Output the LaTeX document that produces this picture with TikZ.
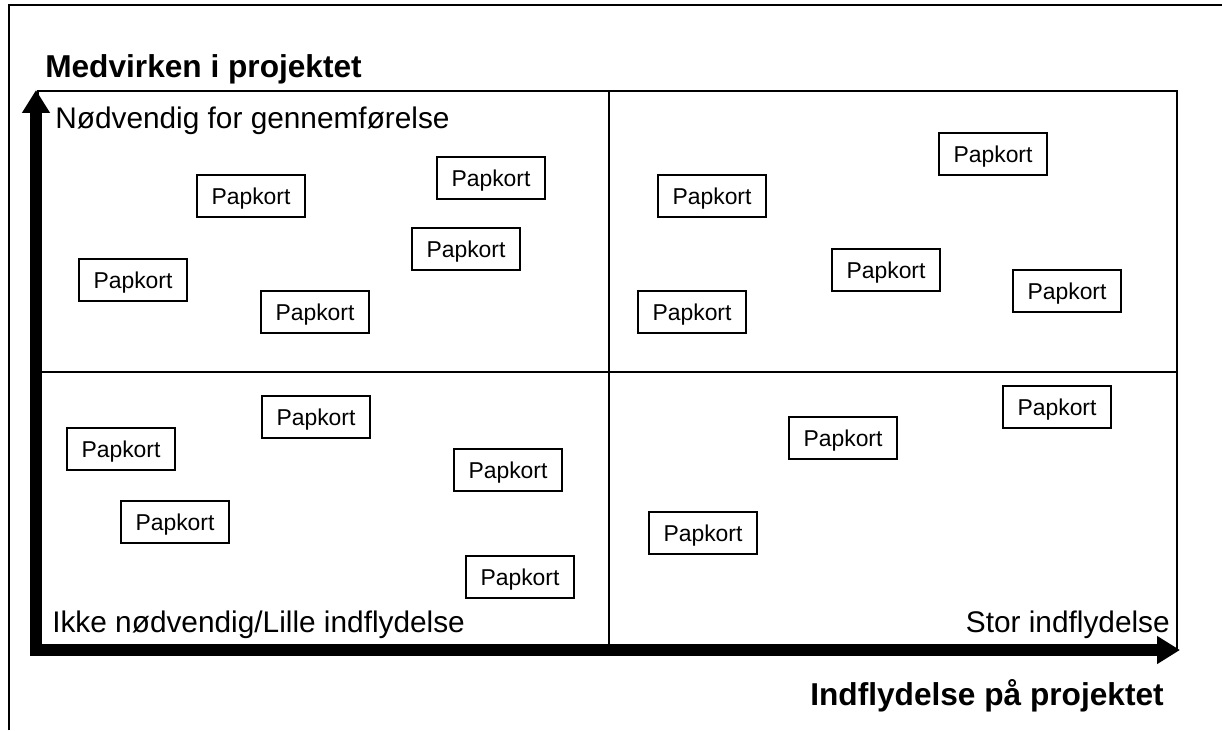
\documentclass[tikz,border=0pt]{standalone}
\usepackage{fontspec}
\setmainfont{Liberation Sans}
\usetikzlibrary{arrows.meta}

\begin{document}
\begin{tikzpicture}[x=0.025cm,y=-0.025cm,
  card/.style={draw,line width=1.4pt,minimum width=2.72cm,minimum height=1.05cm,inner sep=0pt,text depth=0pt,font=\fontsize{16.3}{18}\selectfont},
  corner/.style={inner sep=0pt,font=\fontsize{21.2}{24}\selectfont},
  title/.style={inner sep=0pt,font=\fontsize{22.5}{26}\selectfont\bfseries},
  grid/.style={line width=1.4pt},
  axis/.style={line width=8pt,{Triangle[length=0.57cm,width=0.66cm]}-{Triangle[length=0.57cm,width=0.66cm]}}]
\useasboundingbox (0,0) rectangle (1222,730);
\draw[line width=2.1pt] (9,730) -- (9,5) -- (1222,5);
\draw[grid] (38,91) rectangle (1177,650);
\draw[grid] (609,91) -- (609,650);
\draw[grid] (38,372) -- (1177,372);
\coordinate (ytop) at (36,90);
\coordinate (origo) at (36,650);
\coordinate (xend) at (1180,650);
\draw[axis] (ytop) -- (origo) -- (xend);
\node[title,anchor=base west] (ylabel) at (45,77) {Medvirken i projektet};
\node[title,anchor=base west] (xlabel) at (810,705) {Indflydelse på projektet};
\node[corner,anchor=base west] (q1) at (55,128) {Nødvendig for gennemførelse};
\node[corner,anchor=base west] (q3) at (52,632) {Ikke nødvendig/Lille indflydelse};
\node[corner,anchor=base east] (q4) at (1170,632) {Stor indflydelse};
\node[card] (c1) at (251,196) {Papkort};
\node[card] (c2) at (491,178) {Papkort};
\node[card] (c3) at (466,249) {Papkort};
\node[card] (c4) at (133,280) {Papkort};
\node[card] (c5) at (315,312) {Papkort};
\node[card] (c6) at (993,154) {Papkort};
\node[card] (c7) at (712,196) {Papkort};
\node[card] (c8) at (886,270) {Papkort};
\node[card] (c9) at (692,312) {Papkort};
\node[card] (c10) at (1067,291) {Papkort};
\node[card] (c11) at (316,417) {Papkort};
\node[card] (c12) at (121,449) {Papkort};
\node[card] (c13) at (175,522) {Papkort};
\node[card] (c14) at (508,470) {Papkort};
\node[card] (c15) at (520,577) {Papkort};
\node[card] (c16) at (1057,407) {Papkort};
\node[card] (c17) at (843,438) {Papkort};
\node[card] (c18) at (703,533) {Papkort};
\end{tikzpicture}
\end{document}
